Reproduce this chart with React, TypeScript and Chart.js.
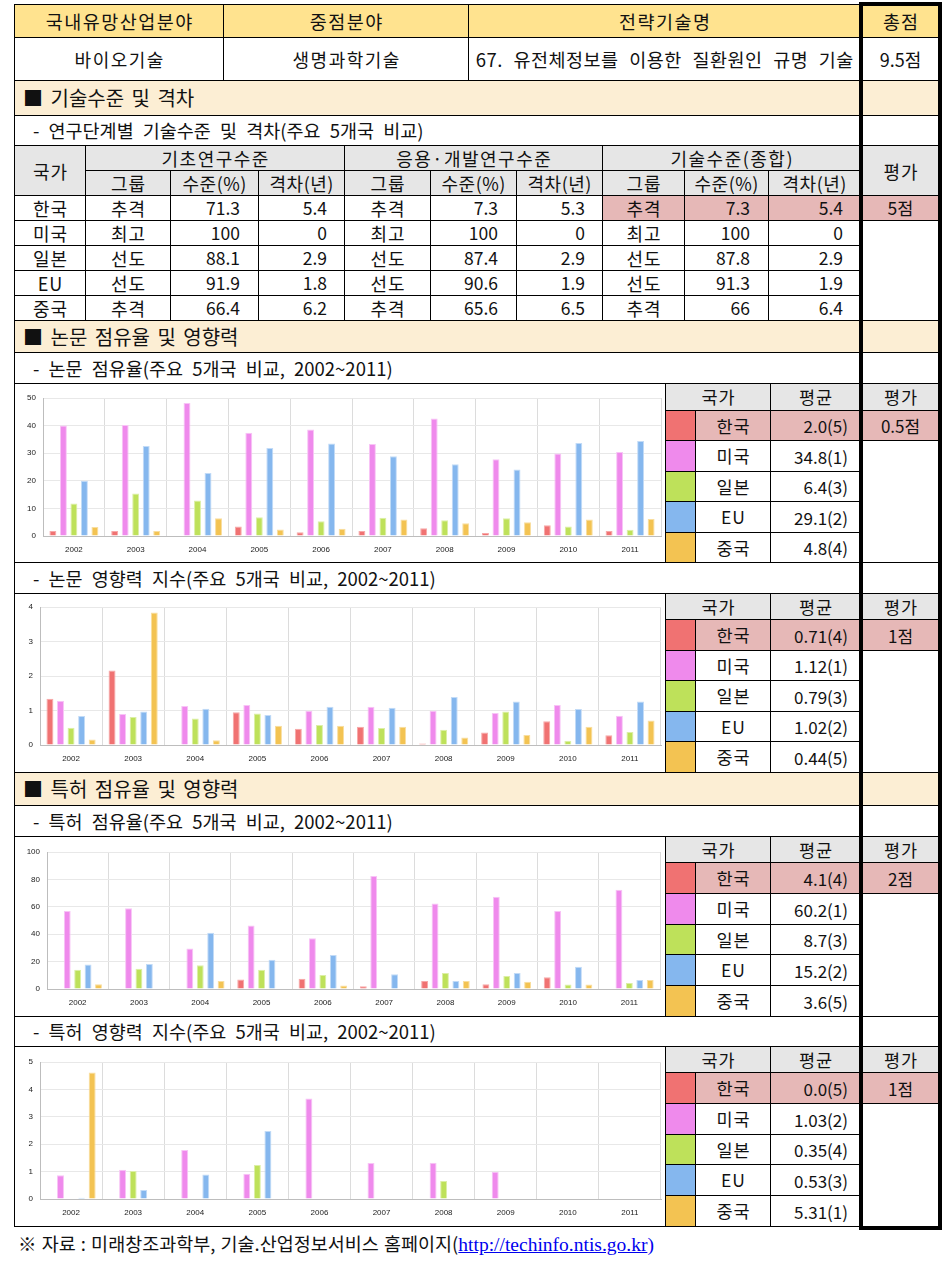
import React, { useEffect, useRef } from "react";
import { Chart, registerables } from "chart.js";

Chart.register(...registerables);

const FONT = "'Noto Sans CJK KR', 'Noto Sans', sans-serif";

// ---------- data ----------
const years = ["2002", "2003", "2004", "2005", "2006", "2007", "2008", "2009", "2010", "2011"];
const countries = ["한국", "미국", "일본", "EU", "중국"];

// 논문 점유율
const paperShareKorea = [1.8, 1.8, 0, 3.4, 1.4, 1.8, 2.8, 1.1, 3.9, 1.8];
const paperShareUSA = [40, 40.2, 48.2, 37.4, 38.6, 33.3, 42.6, 27.8, 29.9, 30.4];
const paperShareJapan = [11.8, 15.4, 12.9, 6.8, 5.3, 6.6, 5.7, 6.4, 3.4, 2.3];
const paperShareEU = [20, 32.6, 22.8, 31.9, 33.5, 28.9, 26.0, 24.1, 33.7, 34.4];
const paperShareChina = [3.3, 1.8, 6.4, 2.4, 2.6, 6.0, 4.6, 5.0, 6.0, 6.2];

// 논문 영향력 지수
const paperImpactKorea = [1.34, 2.16, 0, 0.95, 0.47, 0.53, 0.04, 0.36, 0.69, 0.28];
const paperImpactUSA = [1.28, 0.9, 1.13, 1.16, 0.99, 1.11, 0.99, 0.93, 1.16, 0.85];
const paperImpactJapan = [0.5, 0.81, 0.77, 0.91, 0.58, 0.49, 0.44, 0.97, 0.12, 0.38];
const paperImpactEU = [0.84, 0.97, 1.05, 0.87, 1.11, 1.08, 1.39, 1.26, 1.04, 1.26];
const paperImpactChina = [0.16, 3.84, 0.14, 0.56, 0.56, 0.53, 0.22, 0.29, 0.53, 0.71];

// 특허 점유율
const patentShareKorea = [0, 0, 0, 7, 7.5, 2, 5.8, 3.5, 8.5, 0];
const patentShareUSA = [57, 59, 29.5, 46.3, 37, 82.5, 62.5, 67.3, 57, 72.5];
const patentShareJapan = [14, 14.7, 17.3, 14, 10.2, 0, 11.7, 9.5, 3.3, 4.3];
const patentShareEU = [17.8, 18.3, 41, 21.3, 24.8, 10.7, 5.8, 11.7, 16.2, 6.5];
const patentShareChina = [3.5, 0, 5.8, 0, 2.5, 0, 5.8, 5.3, 3.3, 6.5];

// 특허 영향력 지수
const patentImpactKorea = [0, 0, 0, 0, 0, 0, 0, 0, 0, 0];
const patentImpactUSA = [0.87, 1.07, 1.79, 0.92, 3.67, 1.31, 1.32, 0.99, 0, 0];
const patentImpactJapan = [0, 1.02, 0, 1.24, 0, 0, 0.66, 0, 0, 0];
const patentImpactEU = [0.05, 0.33, 0.89, 2.48, 0, 0, 0, 0, 0, 0];
const patentImpactChina = [4.62, 0, 0, 0, 0, 0, 0, 0, 0, 0];

// legend averages and scores
const paperShareAvg = ["2.0(5)", "34.8(1)", "6.4(3)", "29.1(2)", "4.8(4)"];
const paperImpactAvg = ["0.71(4)", "1.12(1)", "0.79(3)", "1.02(2)", "0.44(5)"];
const patentShareAvg = ["4.1(4)", "60.2(1)", "8.7(3)", "15.2(2)", "3.6(5)"];
const patentImpactAvg = ["0.0(5)", "1.03(2)", "0.35(4)", "0.53(3)", "5.31(1)"];

// technology level table
const basicGroup = ["추격", "최고", "선도", "선도", "추격"];
const basicLevel = ["71.3", "100", "88.1", "91.9", "66.4"];
const basicGap = ["5.4", "0", "2.9", "1.8", "6.2"];
const appliedGroup = ["추격", "최고", "선도", "선도", "추격"];
const appliedLevel = ["7.3", "100", "87.4", "90.6", "65.6"];
const appliedGap = ["5.3", "0", "2.9", "1.9", "6.5"];
const totalGroup = ["추격", "최고", "선도", "선도", "추격"];
const totalLevel = ["7.3", "100", "87.8", "91.3", "66"];
const totalGap = ["5.4", "0", "2.9", "1.9", "6.4"];

// ---------- styles ----------
const fills = ["#F07272", "#EF8AEC", "#BEE15A", "#85B7EE", "#F3C352"];
const edges = ["#F7A8A8", "#F8C4F6", "#DCEFA6", "#C2DBF7", "#F9DE9E"];
const YELLOW = "#FFE38F";
const BEIGE = "#FCEED4";
const GREY = "#E6E6E6";
const PINK = "#E6B8B7";
const TXT = "#111";

type CellProps = {
  x0: number; x1: number; y0: number; y1: number;
  bg?: string; align?: "left" | "center" | "right"; pad?: number; fs?: number; ws?: number; ls?: number;
  color?: string; children?: React.ReactNode;
};

function Cell({ x0, x1, y0, y1, bg = "#fff", align = "center", pad = 0, fs = 17, ws = 0, ls = 0, color = TXT, children }: CellProps) {
  return (
    <div
      style={{
        position: "absolute", left: x0, top: y0, width: x1 - x0 + 1, height: y1 - y0 + 1,
        boxSizing: "border-box", border: "1px solid #000", background: bg,
        display: "flex", alignItems: "center",
        justifyContent: align === "left" ? "flex-start" : align === "right" ? "flex-end" : "center",
        paddingLeft: align === "left" ? pad : align === "center" ? ls : 0, paddingRight: align === "right" ? pad : 0,
        fontSize: fs, fontFamily: FONT, color, whiteSpace: "pre", lineHeight: 1, wordSpacing: ws, letterSpacing: ls,
      }}
    >
      {children}
    </div>
  );
}

type BarProps = {
  top: number; series: number[][]; max: number; step: number;
  yWidth: number; padTop: number; padRight: number; xHeight: number;
};

function BarChart({ top, series, max, step, yWidth, padTop, padRight, xHeight }: BarProps) {
  const ref = useRef<HTMLCanvasElement>(null);
  useEffect(() => {
    const chart = new Chart(ref.current as HTMLCanvasElement, {
      type: "bar",
      data: {
        labels: years,
        datasets: series.map((d, i) => ({
          label: countries[i], data: d, backgroundColor: fills[i], borderColor: edges[i],
          borderWidth: 1, categoryPercentage: 0.85, barPercentage: 0.66,
        })),
      },
      options: {
        animation: false, responsive: false, maintainAspectRatio: false,
        layout: { padding: { top: padTop, right: padRight, left: 0, bottom: 0 } },
        plugins: { legend: { display: false }, tooltip: { enabled: false } },
        scales: {
          x: {
            grid: { color: "#DCDCDC", drawTicks: false, offset: true },
            border: { color: "#BDBDBD" },
            ticks: { font: { size: 8, family: "'Liberation Sans', sans-serif" }, color: "#222", padding: 9, maxRotation: 0, autoSkip: false },
            afterFit: (s: any) => { s.height = xHeight; },
          },
          y: {
            min: 0, max,
            grid: { color: "#E8E8E8", drawTicks: false },
            border: { color: "#BDBDBD" },
            ticks: { stepSize: step, font: { size: 8, family: "'Liberation Sans', sans-serif" }, color: "#222", padding: 7 },
            afterFit: (s: any) => { s.width = yWidth; },
          },
        },
      },
    });
    return () => chart.destroy();
  }, []);
  return (
    <canvas ref={ref} width={649} height={177}
      style={{ position: "absolute", left: 15, top, width: 649, height: 177 }} />
  );
}

function LegendBlock({ top, bottom, headBottom, avgs, score }: { top: number; bottom: number; headBottom: number; avgs: string[]; score: string }) {
  const rh = (bottom - headBottom) / 5;
  const cells: React.ReactNode[] = [];
  cells.push(<Cell key="h1" x0={665} x1={770} y0={top} y1={headBottom} bg={GREY} fs={17.5} ls={1}>국가</Cell>);
  cells.push(<Cell key="h2" x0={770} x1={860} y0={top} y1={headBottom} bg={GREY} fs={17.5} ls={1}>평균</Cell>);
  cells.push(<Cell key="h3" x0={860} x1={940} y0={top} y1={headBottom} bg={GREY} fs={17.5} ls={1}>평가</Cell>);
  countries.forEach((c, i) => {
    const y0 = Math.round(headBottom + rh * i);
    const y1 = Math.round(headBottom + rh * (i + 1));
    const bg = i === 0 ? PINK : "#fff";
    cells.push(<Cell key={"s" + i} x0={665} x1={695} y0={y0} y1={y1} bg={fills[i]} />);
    cells.push(<Cell key={"n" + i} x0={695} x1={770} y0={y0} y1={y1} bg={bg} fs={17.5} ls={1}>{c}</Cell>);
    cells.push(<Cell key={"a" + i} x0={770} x1={860} y0={y0} y1={y1} bg={bg} fs={17} align="right" pad={12}>{avgs[i]}</Cell>);
  });
  const r1 = Math.round(headBottom + rh);
  cells.push(<Cell key="sc" x0={860} x1={940} y0={headBottom} y1={r1} bg={PINK} fs={17}>{score}</Cell>);
  cells.push(<Cell key="se" x0={860} x1={940} y0={r1} y1={bottom} />);
  cells.push(<Cell key="area" x0={14} x1={665} y0={top} y1={bottom} />);
  return <>{cells}</>;
}

function Section({ y0, y1, text }: { y0: number; y1: number; text: string }) {
  return (
    <>
      <Cell x0={14} x1={860} y0={y0} y1={y1} bg={BEIGE} align="left" pad={8} fs={20} ws={3}>{text}</Cell>
      <Cell x0={860} x1={940} y0={y0} y1={y1} bg={BEIGE} />
    </>
  );
}

function Sub({ y0, y1, text }: { y0: number; y1: number; text: string }) {
  return (
    <>
      <Cell x0={14} x1={860} y0={y0} y1={y1} align="left" pad={18} fs={18.5} ws={5}>{text}</Cell>
      <Cell x0={860} x1={940} y0={y0} y1={y1} />
    </>
  );
}

export default function App() {
  const rowTops = [195, 220, 245, 270, 295, 320];
  const groupCols = [
    { x0: 85, x1: 170, x2: 258, x3: 344, g: basicGroup, l: basicLevel, p: basicGap },
    { x0: 344, x1: 430, x2: 516, x3: 602, g: appliedGroup, l: appliedLevel, p: appliedGap },
    { x0: 602, x1: 684, x2: 768, x3: 860, g: totalGroup, l: totalLevel, p: totalGap },
  ];
  return (
    <div style={{ position: "absolute", left: 0, top: 0, width: 950, height: 1275, background: "#fff", fontFamily: FONT }}>
      {/* header */}
      <Cell x0={14} x1={223} y0={4} y1={37} bg={YELLOW} fs={18.5} ls={1.5}>국내유망산업분야</Cell>
      <Cell x0={223} x1={468} y0={4} y1={37} bg={YELLOW} fs={18.5} ls={1.5}>중점분야</Cell>
      <Cell x0={468} x1={860} y0={4} y1={37} bg={YELLOW} fs={18.5} ls={1.5}>전략기술명</Cell>
      <Cell x0={860} x1={940} y0={4} y1={37} bg={YELLOW} fs={18.5} ls={1}>총점</Cell>
      <Cell x0={14} x1={223} y0={37} y1={80} fs={18} ls={1.5}>바이오기술</Cell>
      <Cell x0={223} x1={468} y0={37} y1={80} fs={18} ls={1.5}>생명과학기술</Cell>
      <Cell x0={468} x1={860} y0={37} y1={80} fs={18.5} ws={6} ls={0.5}>67. 유전체정보를 이용한 질환원인 규명 기술</Cell>
      <Cell x0={860} x1={940} y0={37} y1={80} fs={18}>9.5점</Cell>

      <Section y0={80} y1={115} text="■ 기술수준 및 격차" />
      <Sub y0={115} y1={145} text="- 연구단계별 기술수준 및 격차(주요 5개국 비교)" />

      {/* level table header */}
      <Cell x0={14} x1={85} y0={145} y1={195} bg={GREY} fs={18} ls={1}>국가</Cell>
      <Cell x0={85} x1={344} y0={145} y1={170} bg={GREY} fs={18} ls={1.5}>기초연구수준</Cell>
      <Cell x0={344} x1={602} y0={145} y1={170} bg={GREY} fs={18} ls={1.5}>응용·개발연구수준</Cell>
      <Cell x0={602} x1={860} y0={145} y1={170} bg={GREY} fs={18} ls={1.5}>기술수준(종합)</Cell>
      <Cell x0={860} x1={940} y0={145} y1={195} bg={GREY} fs={18} ls={1}>평가</Cell>
      {groupCols.map((gc, k) => (
        <React.Fragment key={"gh" + k}>
          <Cell x0={gc.x0} x1={gc.x1} y0={170} y1={195} bg={GREY} fs={18} ls={1}>그룹</Cell>
          <Cell x0={gc.x1} x1={gc.x2} y0={170} y1={195} bg={GREY} fs={18} ls={0.5}>수준(%)</Cell>
          <Cell x0={gc.x2} x1={gc.x3} y0={170} y1={195} bg={GREY} fs={18} ls={0.5}>격차(년)</Cell>
        </React.Fragment>
      ))}
      {countries.map((c, i) => (
        <React.Fragment key={"r" + i}>
          <Cell x0={14} x1={85} y0={rowTops[i]} y1={rowTops[i + 1]} fs={18} ls={1}>{c}</Cell>
          {groupCols.map((gc, k) => {
            const bg = k === 2 && i === 0 ? PINK : "#fff";
            return (
              <React.Fragment key={"c" + k}>
                <Cell x0={gc.x0} x1={gc.x1} y0={rowTops[i]} y1={rowTops[i + 1]} bg={bg} fs={18} ls={1}>{gc.g[i]}</Cell>
                <Cell x0={gc.x1} x1={gc.x2} y0={rowTops[i]} y1={rowTops[i + 1]} bg={bg} fs={17.5} align="right" pad={18}>{gc.l[i]}</Cell>
                <Cell x0={gc.x2} x1={gc.x3} y0={rowTops[i]} y1={rowTops[i + 1]} bg={bg} fs={17.5} align="right" pad={17}>{gc.p[i]}</Cell>
              </React.Fragment>
            );
          })}
        </React.Fragment>
      ))}
      <Cell x0={860} x1={940} y0={195} y1={220} bg={PINK} fs={17.5}>5점</Cell>
      <Cell x0={860} x1={940} y0={220} y1={320} />

      {/* papers */}
      <Section y0={320} y1={352} text="■ 논문 점유율 및 영향력" />
      <Sub y0={352} y1={383} text="- 논문 점유율(주요 5개국 비교, 2002~2011)" />
      <LegendBlock top={383} bottom={562} headBottom={410} avgs={paperShareAvg} score="0.5점" />
      <BarChart top={384} series={[paperShareKorea, paperShareUSA, paperShareJapan, paperShareEU, paperShareChina]}
        max={50} step={10} yWidth={28} padTop={14} padRight={3} xHeight={25} />

      <Sub y0={562} y1={593} text="- 논문 영향력 지수(주요 5개국 비교, 2002~2011)" />
      <LegendBlock top={593} bottom={772} headBottom={619} avgs={paperImpactAvg} score="1점" />
      <BarChart top={594} series={[paperImpactKorea, paperImpactUSA, paperImpactJapan, paperImpactEU, paperImpactChina]}
        max={4} step={1} yWidth={25} padTop={13} padRight={3} xHeight={26} />

      {/* patents */}
      <Section y0={772} y1={805} text="■ 특허 점유율 및 영향력" />
      <Sub y0={805} y1={836} text="- 특허 점유율(주요 5개국 비교, 2002~2011)" />
      <LegendBlock top={836} bottom={1016} headBottom={862} avgs={patentShareAvg} score="2점" />
      <BarChart top={837} series={[patentShareKorea, patentShareUSA, patentShareJapan, patentShareEU, patentShareChina]}
        max={100} step={20} yWidth={32} padTop={15} padRight={4} xHeight={25} />

      <Sub y0={1016} y1={1046} text="- 특허 영향력 지수(주요 5개국 비교, 2002~2011)" />
      <LegendBlock top={1046} bottom={1226} headBottom={1072} avgs={patentImpactAvg} score="1점" />
      <BarChart top={1047} series={[patentImpactKorea, patentImpactUSA, patentImpactJapan, patentImpactEU, patentImpactChina]}
        max={5} step={1} yWidth={25} padTop={15} padRight={3} xHeight={25} />

      {/* thick frame around score column */}
      <div style={{ position: "absolute", left: 859, top: 2, width: 83, height: 1228, boxSizing: "border-box", border: "4px solid #000", pointerEvents: "none" }} />

      {/* source */}
      <div style={{ position: "absolute", left: 18, top: 1231, fontFamily: FONT, fontSize: 18.5, color: TXT, whiteSpace: "pre", lineHeight: "24px", wordSpacing: 1 }}>
        ※ 자료 : 미래창조과학부, 기술.산업정보서비스 홈페이지(
        <span style={{ fontFamily: "'Liberation Serif', serif", fontSize: 19.5, color: "#0000EE", textDecoration: "underline", wordSpacing: 0 }}>http://techinfo.ntis.go.kr</span>
        <span style={{ fontFamily: "'Liberation Serif', serif", fontSize: 19.5, color: "#0000EE" }}>)</span>
      </div>
    </div>
  );
}
